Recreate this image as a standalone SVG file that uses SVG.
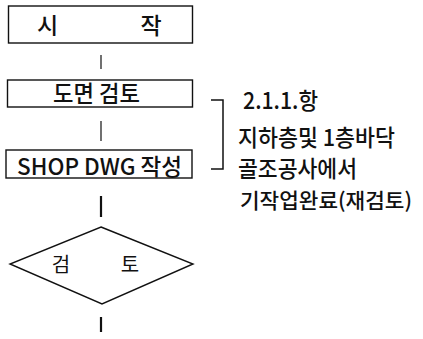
<svg xmlns="http://www.w3.org/2000/svg" width="423" height="339" viewBox="0 0 423 339">
<style>
.box{fill:#fff;stroke:#111;stroke-width:1.4}
.t{font-family:"Noto Sans CJK KR","Noto Sans",sans-serif;font-size:23px;font-weight:500;fill:#111}
.d{font-family:"Noto Sans CJK KR","Noto Sans",sans-serif;font-size:20px;font-weight:400;fill:#111}
.c{stroke:#111;fill:none}
</style>
<rect width="423" height="339" fill="#fff"/>
<g id="connectors">
<line class="c" x1="101" y1="55" x2="101" y2="69" stroke-width="1.2"/>
<line class="c" x1="101" y1="121" x2="101" y2="141" stroke-width="1.2"/>
<line class="c" x1="101" y1="196" x2="101" y2="217" stroke-width="2.2"/>
<line class="c" x1="101" y1="317" x2="101" y2="332" stroke-width="2.2"/>
<path class="c" d="M211,100 H223 V169 H211" stroke-width="1.5"/>
</g>
<g id="start">
<rect class="box" x="8.5" y="6" width="184" height="37"/>
<text class="t" x="47.5" y="34" text-anchor="middle">시</text>
<text class="t" x="151" y="34" text-anchor="middle">작</text>
</g>
<g id="review-drawing">
<rect class="box" x="7.5" y="80" width="185" height="27"/>
<text class="t" x="53" y="102" textLength="87" lengthAdjust="spacingAndGlyphs">도면 검토</text>
</g>
<g id="shop-dwg">
<rect class="box" x="6" y="150" width="186" height="28"/>
<text class="t" x="17" y="175" textLength="165" lengthAdjust="spacingAndGlyphs">SHOP DWG 작성</text>
</g>
<g id="decision">
<polygon class="box" points="101,227 193,264 102,304 10,264"/>
<text class="d" x="61" y="272" text-anchor="middle">검</text>
<text class="d" x="130" y="272" text-anchor="middle">토</text>
</g>
<g id="note">
<text class="t" x="243" y="109" textLength="75" lengthAdjust="spacingAndGlyphs">2.1.1.항</text>
<text class="t" x="238" y="146" textLength="157" lengthAdjust="spacingAndGlyphs">지하층및 1층바닥</text>
<text class="t" x="238" y="177" textLength="119" lengthAdjust="spacingAndGlyphs">골조공사에서</text>
<text class="t" x="240" y="208" font-size="21" style="font-size:21px" textLength="172" lengthAdjust="spacingAndGlyphs">기작업완료(재검토)</text>
</g>
</svg>
